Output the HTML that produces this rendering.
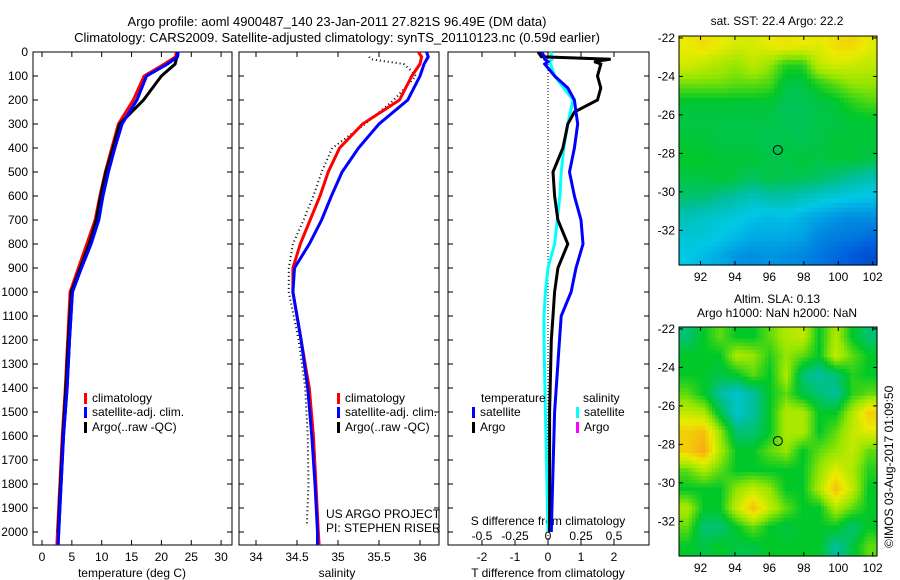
<!DOCTYPE html>
<html><head><meta charset="utf-8">
<style>
body{margin:0;background:#fff;}
svg{display:block;font-family:"Liberation Sans",sans-serif;}
text{font-size:12px;fill:#000;}
</style></head>
<body>
<svg id="c" width="900" height="580" viewBox="0 0 900 580">
<text x="337" y="26" text-anchor="middle" style="font-size:13px">Argo profile: aoml 4900487_140 23-Jan-2011 27.821S 96.49E (DM data)</text>
<text x="337" y="42" text-anchor="middle" style="font-size:13px">Climatology: CARS2009. Satellite-adjusted climatology: synTS_20110123.nc (0.59d earlier)</text>
<text x="777" y="25" text-anchor="middle">sat. SST: 22.4  Argo: 22.2</text>
<text x="777" y="303" text-anchor="middle">Altim. SLA: 0.13</text>
<text x="777" y="317" text-anchor="middle">Argo h1000: NaN h2000: NaN</text>
<text transform="translate(893,548) rotate(-90)">©IMOS 03-Aug-2017 01:09:50</text>
</svg>
<script>
// ---------- data ----------
const depths = [0,20,50,100,200,300,400,500,600,700,800,900,1000,1200,1400,1600,1800,2000,2054];
const tempClim = [22.5,22.4,20.5,17.1,15.3,12.8,11.7,10.6,9.7,8.9,7.5,6.1,4.7,4.3,3.9,3.4,3.0,2.6,2.5];
const tempSat  = [22.8,22.7,21,17.5,15.9,13.4,12.2,11.1,10.2,9.5,8.2,6.6,5.1,4.6,4.2,3.6,3.2,2.8,2.7];
const tempArgo = [22.7,22.6,22.3,20,17,13,11.9,10.7,9.8,9.1,7.9,6.4,4.9,4.4,4.0,3.5,3.1,2.7];
const salClim = [35.98,36.02,36.0,35.9,35.75,35.3,35.02,34.88,34.78,34.66,34.54,34.45,34.45,34.55,34.65,34.7,34.73,34.76,34.77];
const salSat  = [36.08,36.1,36.05,36.0,35.85,35.5,35.25,35.05,34.92,34.8,34.65,34.47,34.45,34.55,34.63,34.68,34.72,34.75,34.75];
const argoDepths = [20,30,50,80,100,200,300,400,500,600,700,800,900,1000,1200,1400,1600,1800,1970];
const salArgo = [35.38,35.4,35.8,35.9,35.95,35.68,35.33,34.93,34.8,34.7,34.58,34.45,34.4,34.4,34.52,34.6,34.63,34.64,34.62];
const diffDepths = [0,20,30,40,50,100,150,200,250,300,400,500,600,700,800,900,1000,1100,1200,1500,2000];
const tDiffArgo = [-0.3,-0.2,1.9,1.4,1.6,1.5,1.6,1.5,0.8,0.6,0.45,0.15,0.2,0.3,0.6,0.3,0.2,0.15,0.1,0.05,0.05];
const tDiffSat  = [-0.2,-0.1,-0.1,0,-0.1,0.2,0.6,0.8,0.85,0.9,0.8,0.65,0.8,1.0,1.06,0.85,0.7,0.4,0.35,0.2,0.1];
const sDiffSat  = [0.03,0.02,0.03,0.01,0.02,0.05,0.12,0.19,0.17,0.15,0.12,0.1,0.09,0.07,0.05,0.0,-0.02,-0.03,-0.03,-0.02,0.0];
const tempTicks = [0,5,10,15,20,25,30];
const salTicks = [34,34.5,35,35.5,36];
const tDiffTicks = [-2,-1,0,1,2];
const sDiffTicks = [-0.5,-0.25,0,0.25,0.5];
const depthTicks = [0,100,200,300,400,500,600,700,800,900,1000,1100,1200,1300,1400,1500,1600,1700,1800,1900,2000];
const lonTicks = [92,94,96,98,100,102];
const latTicks = [-22,-24,-26,-28,-30,-32];
const sstGrid = [
[.66,.68,.66,.64,.64,.66,.67,.66,.65,.68,.69,.65],
[.64,.62,.60,.58,.62,.58,.52,.52,.62,.64,.63,.62],
[.56,.56,.56,.55,.55,.54,.48,.48,.52,.55,.58,.58],
[.49,.49,.49,.49,.49,.49,.47,.47,.48,.49,.52,.54],
[.48,.48,.48,.48,.48,.48,.47,.47,.48,.48,.49,.49],
[.49,.49,.48,.48,.48,.47,.48,.47,.48,.49,.49,.49],
[.50,.50,.49,.49,.49,.48,.48,.49,.48,.49,.49,.48],
[.48,.48,.49,.48,.46,.48,.47,.47,.46,.44,.42,.40],
[.45,.45,.43,.41,.39,.41,.41,.39,.37,.36,.35,.34],
[.40,.38,.37,.36,.34,.33,.34,.32,.30,.28,.27,.27],
[.37,.37,.35,.33,.31,.31,.31,.30,.26,.25,.24,.23],
[.35,.33,.31,.28,.27,.28,.27,.26,.24,.22,.20,.18]];
const slaGrid = [
[.45,.50,.55,.50,.50,.55,.60,.62,.50,.60,.50,.45],
[.50,.50,.50,.60,.58,.52,.58,.55,.50,.62,.55,.50],
[.50,.50,.48,.50,.55,.50,.60,.45,.42,.45,.52,.50],
[.55,.50,.42,.38,.42,.50,.55,.48,.45,.42,.52,.55],
[.62,.60,.48,.38,.42,.50,.60,.60,.50,.50,.60,.70],
[.70,.72,.58,.45,.45,.50,.60,.60,.50,.55,.62,.65],
[.70,.75,.60,.50,.50,.55,.58,.50,.55,.58,.62,.55],
[.55,.60,.55,.50,.50,.50,.50,.50,.58,.65,.60,.52],
[.50,.50,.50,.58,.62,.58,.50,.50,.60,.72,.62,.50],
[.60,.50,.50,.62,.72,.62,.55,.50,.50,.60,.55,.50],
[.55,.45,.45,.50,.55,.50,.48,.50,.50,.50,.45,.50],
[.50,.48,.50,.48,.48,.50,.50,.50,.50,.42,.48,.55]];
const argoLon = 96.49, argoLat = -27.821;

// ---------- helpers ----------
const svg = document.getElementById('c');
const NS = 'http://www.w3.org/2000/svg';
function mk(tag, attrs, parent){const e=document.createElementNS(NS,tag);for(const k in attrs)e.setAttribute(k,attrs[k]);(parent||svg).appendChild(e);return e;}
const yD = d => 52 + d*0.24;
const xT = v => 42 + v*5.97;
const xS = v => 256 + (v-34)*82;
const xTD = v => 548 + v*33;
const xSD = v => 548 + v*132;

function panel(name,x0,x1){
  const r = mk('rect',{x:x0,y:52,width:x1-x0,height:493,fill:'none',stroke:'#000','stroke-width':1});
  
  
  depthTicks.forEach(d=>{
    mk('line',{x1:x0,x2:x0+5,y1:yD(d),y2:yD(d),stroke:'#000'});
    mk('line',{x1:x1,x2:x1-5,y1:yD(d),y2:yD(d),stroke:'#000'});
  });
}
function xticks(ticks,fx,labelY,prefix){
  ticks.forEach(v=>{
    const x=fx(v);
    mk('line',{x1:x,x2:x,y1:52,y2:57,stroke:'#000'});
    mk('line',{x1:x,x2:x,y1:545,y2:540,stroke:'#000'});
    const t=mk('text',{x:x,y:labelY,'text-anchor':'middle'});t.textContent=String(v);
    
    
  });
}
function line(ds,vs,fx,color,name,dash,w){
  const pts=vs.map((v,i)=>fx(v).toFixed(1)+','+yD(ds[i]).toFixed(1)).join(' ');
  const p=mk('polyline',{points:pts,fill:'none',stroke:color,'stroke-width':w||3});
  if(dash)p.setAttribute('stroke-dasharray',dash);
  
  
}
function legend(x,y,color,label,name){
  mk('rect',{x:x,y:y-9,width:3,height:11,fill:color});
  const t=mk('text',{x:x+8,y:y});t.textContent=label;
  
  
}
function label(x,y,txt,name,anchor){
  const t=mk('text',{x:x,y:y,'text-anchor':anchor||'middle'});t.textContent=txt;
  
  
}

// depth labels
depthTicks.forEach(d=>{
  const t=mk('text',{x:28,y:yD(d)+4,'text-anchor':'end'});t.textContent=String(d);
  
  
});

// panel 1 temperature
panel('temperature-panel',33,232);
xticks(tempTicks,xT,561,'temperature');
label(132,577,'temperature (deg C)','temperature-axis-title');
line(depths,tempClim,xT,'#f00','temperature-climatology-line');
line(depths,tempSat,xT,'#00f','temperature-satellite-line');
line(depths.slice(0,tempArgo.length),tempArgo,xT,'#000','temperature-argo-line');
line(depths,tempSat,xT,'#00f','temperature-satellite-line-top');
legend(84,402,'#f00','climatology','temp-legend-climatology');
legend(84,416,'#00f','satellite-adj. clim.','temp-legend-satellite');
legend(84,431,'#000','Argo(..raw -QC)','temp-legend-argo');

// panel 2 salinity
panel('salinity-panel',239,439);
xticks(salTicks,xS,561,'salinity');
label(337,577,'salinity','salinity-axis-title');
line(argoDepths,salArgo,xS,'#000','salinity-argo-line','1,3',2);
line(depths,salClim,xS,'#f00','salinity-climatology-line');
line(depths,salSat,xS,'#00f','salinity-satellite-line');
legend(337,402,'#f00','climatology','sal-legend-climatology');
legend(337,416,'#00f','satellite-adj. clim.','sal-legend-satellite');
legend(337,431,'#000','Argo(..raw -QC)','sal-legend-argo');
label(326,518,'US ARGO PROJECT','project-label','start');
label(326,532,'PI: STEPHEN RISER','pi-label','start');

// panel 3 differences
panel('difference-panel',448,649);
mk('line',{x1:548,x2:548,y1:52,y2:545,stroke:'#000','stroke-dasharray':'1,2'});
xticks(tDiffTicks,xTD,561,'t-diff');
sDiffTicks.forEach(v=>{label(xSD(v),540,String(v),'s-diff-tick-label');});
label(548,525,'S difference from climatology','s-diff-axis-title');
label(548,577,'T difference from climatology','t-diff-axis-title');
line(diffDepths,sDiffSat,xSD,'#0ff','salinity-diff-satellite-line');
line(diffDepths,tDiffArgo,xTD,'#000','temperature-diff-argo-line');
line(diffDepths,tDiffSat,xTD,'#00f','temperature-diff-satellite-line');
label(481,402,'temperature','diff-legend-temperature-header','start');
label(583,402,'salinity','diff-legend-salinity-header','start');
legend(472,416,'#00f','satellite','diff-legend-t-satellite');
legend(472,431,'#000','Argo','diff-legend-t-argo');
legend(576,416,'#0ff','satellite','diff-legend-s-satellite');
legend(576,431,'#f0f','Argo','diff-legend-s-argo');

// ---------- maps ----------
const stops=[[0,[0,0,120]],[0.2,[0,90,220]],[0.35,[0,200,230]],[0.42,[0,190,160]],[0.5,[0,200,40]],[0.58,[150,230,0]],[0.66,[235,235,0]],[0.75,[250,170,20]],[0.9,[230,60,0]],[1,[150,0,0]]];
function cmap(v){
  for(let i=1;i<stops.length;i++){if(v<=stops[i][0]){const a=stops[i-1],b=stops[i];const f=(v-a[0])/(b[0]-a[0]);
    return 'rgb('+a[1].map((c,k)=>Math.round(c+(b[1][k]-c)*f)).join(',')+')';}}
  return 'rgb(150,0,0)';
}
function map(grid,top,name,sub){
  const x0=679,x1=877,y1=top+229;
  const lon0=90.75,lon1=102.25,lat0=-21.9,lat1=-33.8;
  const fx=v=>x0+(v-lon0)/(lon1-lon0)*(x1-x0);
  const fy=v=>top+(v-lat0)/(lat1-lat0)*(y1-top);
  const g=mk('g',{});
  
  
  const R=grid.length,C=grid[0].length;
  const W=(x1-x0)/(C*sub),H=(y1-top)/(R*sub);
  for(let r=0;r<R*sub;r++)for(let c=0;c<C*sub;c++){
    const gr=Math.min(Math.max((r+0.5)/sub-0.5,0),R-1),gc=Math.min(Math.max((c+0.5)/sub-0.5,0),C-1);
    const r0=Math.floor(gr),c0=Math.floor(gc),r1=Math.min(r0+1,R-1),c1=Math.min(c0+1,C-1),fr=gr-r0,fc=gc-c0;
    const v=grid[r0][c0]*(1-fr)*(1-fc)+grid[r0][c1]*(1-fr)*fc+grid[r1][c0]*fr*(1-fc)+grid[r1][c1]*fr*fc;
    mk('rect',{x:(x0+c*W).toFixed(2),y:(top+r*H).toFixed(2),width:(W+0.6).toFixed(2),height:(H+0.6).toFixed(2),fill:cmap(v)},g);
  }
  mk('rect',{x:x0,y:top,width:x1-x0,height:y1-top,fill:'none',stroke:'#000'});
  lonTicks.forEach(v=>{const x=fx(v);mk('line',{x1:x,x2:x,y1:top,y2:top+4,stroke:'#000'});mk('line',{x1:x,x2:x,y1:y1,y2:y1-4,stroke:'#000'});label(x,y1+16,String(v),'map-lon-tick-label');});
  latTicks.forEach(v=>{const y=fy(v);mk('line',{x1:x0,x2:x0+4,y1:y,y2:y,stroke:'#000'});mk('line',{x1:x1,x2:x1-4,y1:y,y2:y,stroke:'#000'});label(x0-4,y+4,String(v),'map-lat-tick-label','end');});
  const m=mk('circle',{cx:fx(argoLon),cy:fy(argoLat),r:4.5,fill:'none',stroke:'#000'});
  
  
}
map(sstGrid,36,'sst-map',4);
map(slaGrid,327,'sla-map',5);
</script>
</body></html>
